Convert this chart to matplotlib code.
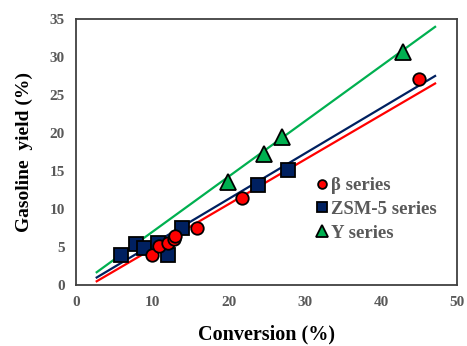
import matplotlib.pyplot as plt
import numpy as np

# beta series (red circles)
beta_x = [9.9, 10.9, 12.0, 12.8, 13.0, 15.8, 21.8, 45.0]
beta_y = [4.0, 5.2, 5.5, 6.1, 6.5, 7.5, 11.4, 27.1]

# ZSM-5 series (navy squares)
zsm_x = [5.9, 7.9, 8.9, 10.7, 12.0, 13.9, 23.9, 27.8]
zsm_y = [4.0, 5.4, 4.9, 5.5, 4.0, 7.5, 13.2, 15.1]

# Y series (green triangles)
y_x = [19.9, 24.7, 27.0, 42.9]
y_y = [13.6, 17.2, 19.5, 30.6]

# trendlines: slope, intercept
trend_range = [2.7, 47.1]
beta_fit = [0.586, -1.08]
zsm_fit = [0.597, -0.61]
y_fit = [0.727, -0.27]

plt.rcParams['font.family'] = ['Liberation Serif', 'DejaVu Serif']
plt.rcParams['font.weight'] = 'bold'

fig = plt.figure(figsize=(4.67, 3.46), dpi=100)
ax = fig.add_axes([0.163, 0.176, 0.816, 0.769])

xs = np.array(trend_range)
ax.plot(xs, beta_fit[0] * xs + beta_fit[1], color='#FF0000', lw=1.6, zorder=2)
ax.plot(xs, zsm_fit[0] * xs + zsm_fit[1], color='#002060', lw=1.6, zorder=2)
ax.plot(xs, y_fit[0] * xs + y_fit[1], color='#00B050', lw=1.6, zorder=2)

ax.plot(zsm_x, zsm_y, 's', ms=10, mfc='#002060', mec='black', mew=1.3,
        ls='none', label='ZSM-5 series', zorder=3)
ax.plot(beta_x, beta_y, 'o', ms=9, mfc='#FF0000', mec='black', mew=1.3,
        ls='none', label='\u03b2 series', zorder=4)
ax.plot(y_x, y_y, '^', ms=12, mfc='#00B050', mec='black', mew=1.3,
        ls='none', label='Y series', zorder=5)

ax.set_xlim(0, 50)
ax.set_ylim(0, 35)
ax.set_xticks(range(0, 51, 10))
ax.set_yticks(range(0, 36, 5))
ax.tick_params(length=0, labelsize=11, labelcolor='#595959', pad=8)
for lab in ax.get_xticklabels() + ax.get_yticklabels():
    lab.set_fontweight('bold')
for sp in ax.spines.values():
    sp.set_color('#404040')
    sp.set_linewidth(1.3)

ax.set_xlabel('Conversion (%)', fontsize=14.5, fontweight='bold', labelpad=11)
ax.set_ylabel('Gasoline  yield (%)', fontsize=14, fontweight='bold', labelpad=12)

handles, labels = ax.get_legend_handles_labels()
order = [1, 0, 2]
leg = ax.legend([handles[i] for i in order], [labels[i] for i in order],
                loc='center left', bbox_to_anchor=(0.585, 0.285), frameon=False,
                markerscale=0.7, handlelength=0.6, handletextpad=0.2,
                labelspacing=0.35, prop={'size': 13.5, 'weight': 'bold'})
for t in leg.get_texts():
    t.set_color('#595959')

fig.savefig('out.png', dpi=100)
